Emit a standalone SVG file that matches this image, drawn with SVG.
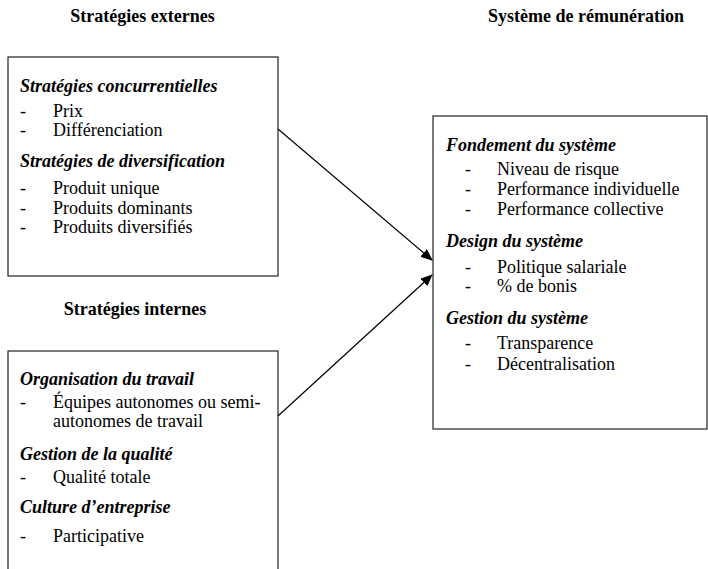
<svg xmlns="http://www.w3.org/2000/svg" width="708" height="569" viewBox="0 0 708 569">
<style>
text{font-family:"Liberation Serif","Times New Roman",serif;font-size:18px;fill:#000}
.t{font-weight:bold;text-anchor:middle}
.h{font-weight:bold;font-style:italic}
.box{fill:#fff;stroke:#222;stroke-width:1.2}
.c{stroke:#000;stroke-width:1.2;fill:none}
</style>
<defs>
<marker id="ah" markerWidth="12" markerHeight="10" refX="11" refY="5" orient="auto" markerUnits="userSpaceOnUse">
<path d="M0,0 L12,5 L0,10 Z" fill="#000"/>
</marker>
</defs>
<rect width="708" height="569" fill="#fff"/>
<text class="t" x="142.5" y="22">Stratégies externes</text>
<text class="t" x="586" y="22">Système de rémunération</text>
<text class="t" x="135" y="315">Stratégies internes</text>
<g id="externes">
<rect class="box" x="8" y="57" width="270" height="219"/>
<text class="h" x="20" y="92">Stratégies concurrentielles</text>
<text x="20" y="117">-</text><text x="53" y="117">Prix</text>
<text x="20" y="136">-</text><text x="53" y="136">Différenciation</text>
<text class="h" x="20" y="167">Stratégies de diversification</text>
<text x="20" y="194">-</text><text x="53" y="194">Produit unique</text>
<text x="20" y="214">-</text><text x="53" y="214">Produits dominants</text>
<text x="20" y="233">-</text><text x="53" y="233">Produits diversifiés</text>
</g>
<g id="internes">
<rect class="box" x="8" y="351" width="270" height="230"/>
<text class="h" x="20" y="385">Organisation du travail</text>
<text x="20" y="408">-</text><text x="53" y="408">Équipes autonomes ou semi-</text>
<text x="53" y="427">autonomes de travail</text>
<text class="h" x="20" y="460">Gestion de la qualité</text>
<text x="20" y="483">-</text><text x="53" y="483">Qualité totale</text>
<text class="h" x="20" y="513">Culture d’entreprise</text>
<text x="20" y="542">-</text><text x="53" y="542">Participative</text>
</g>
<g id="remuneration">
<rect class="box" x="433" y="116" width="274" height="313"/>
<text class="h" x="446" y="151">Fondement du système</text>
<text x="465" y="175">-</text><text x="497" y="175">Niveau de risque</text>
<text x="465" y="195">-</text><text x="497" y="195">Performance individuelle</text>
<text x="465" y="215">-</text><text x="497" y="215">Performance collective</text>
<text class="h" x="446" y="247">Design du système</text>
<text x="465" y="273">-</text><text x="497" y="273">Politique salariale</text>
<text x="465" y="292">-</text><text x="497" y="292">% de bonis</text>
<text class="h" x="446" y="324">Gestion du système</text>
<text x="465" y="349">-</text><text x="497" y="349">Transparence</text>
<text x="465" y="370">-</text><text x="497" y="370">Décentralisation</text>
</g>
<g id="connectors">
<line class="c" x1="278" y1="129" x2="432" y2="260" marker-end="url(#ah)"/>
<line class="c" x1="278" y1="416" x2="432" y2="275" marker-end="url(#ah)"/>
</g>
</svg>
